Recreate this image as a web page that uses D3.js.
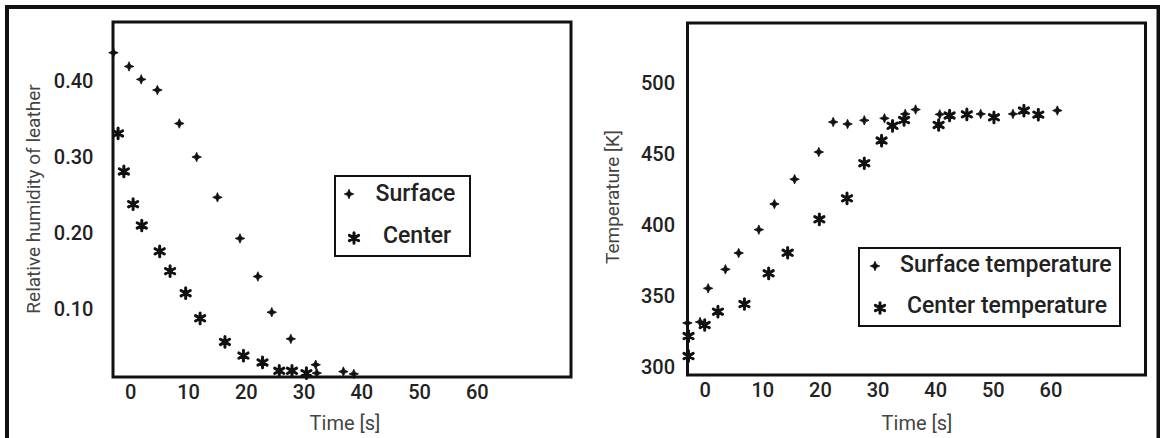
<!DOCTYPE html>
<html>
<head>
<meta charset="utf-8">
<script src="https://cdn.jsdelivr.net/npm/d3@7"></script>
<style>
  html, body { margin: 0; padding: 0; background: #fff; }
  svg { display: block; }
  text { font-family: Roboto, "Liberation Sans", sans-serif; }
</style>
</head>
<body>
<svg id="chart" width="1160" height="438"></svg>
<script>
// ---------- data ----------
// Left panel: relative humidity of leather vs time
const humSurfaceTime = [-2.9, -0.2, 1.9, 4.7, 8.5, 11.5, 15.1, 19.0, 22.1, 24.5, 27.8, 32.1, 32.3, 36.9, 38.7];
const humSurface     = [0.437, 0.419, 0.402, 0.388, 0.344, 0.300, 0.247, 0.193, 0.143, 0.096, 0.061, 0.027, 0.016, 0.018, 0.015];
const humCenterTime  = [-2.1, -1.1, 0.5, 2.0, 5.1, 6.9, 9.6, 12.1, 16.4, 19.6, 22.9, 25.8, 28.0, 30.5];
const humCenter      = [0.331, 0.281, 0.238, 0.210, 0.176, 0.150, 0.121, 0.088, 0.057, 0.039, 0.030, 0.019, 0.019, 0.016];

// Right panel: temperature vs time
const tempSurfaceTime = [-3.0, -0.8, 0.6, 3.6, 5.9, 9.4, 12.1, 15.6, 19.8, 22.3, 24.8, 27.7, 31.2, 34.8, 36.6, 40.8, 47.9, 53.5, 61.2];
const tempSurface     = [330.8, 331.5, 355.3, 368.7, 380.2, 396.7, 414.8, 432.3, 451.5, 472.7, 471.3, 473.9, 475.3, 478.4, 481.5, 478.1, 478.4, 478.4, 480.8];
const tempCenterTime  = [-2.8, -2.8, 0.0, 2.3, 6.9, 11.1, 14.4, 19.9, 24.7, 27.7, 30.7, 32.6, 34.6, 40.6, 42.5, 45.5, 50.2, 55.4, 57.9];
const tempCenter      = [307.5, 321.6, 329.4, 338.8, 344.2, 365.9, 380.4, 404.0, 418.8, 443.6, 459.6, 470.0, 474.1, 470.6, 477.3, 478.1, 476.0, 480.8, 477.9];

// tick labels
const timeTicks = [0, 10, 20, 30, 40, 50, 60];
const humTicks  = [0.10, 0.20, 0.30, 0.40];
const tempTicks = [300, 350, 400, 450, 500];

// texts
const leftYTitle  = "Relative humidity of leather";
const rightYTitle = "Temperature [K]";
const xTitle      = "Time [s]";
const leftLegend  = ["Surface", "Center"];
const rightLegend = ["Surface temperature", "Center temperature"];

// ---------- drawing ----------
const svg = d3.select("#chart");
const INK = "#111";

// outer frame
svg.append("rect")
  .attr("x", 7).attr("y", 7).attr("width", 1151.5).attr("height", 440)
  .attr("fill", "none").attr("stroke", INK).attr("stroke-width", 4);

// four-pointed "+" marker as a custom d3 symbol type
const sparkle = {
  draw(ctx, size) {
    const r = Math.sqrt(size) * 0.75, w = r * 0.3;
    ctx.moveTo(0, -r); ctx.lineTo(w, -w); ctx.lineTo(r, 0); ctx.lineTo(w, w);
    ctx.lineTo(0, r); ctx.lineTo(-w, w); ctx.lineTo(-r, 0); ctx.lineTo(-w, -w); ctx.closePath();
  }
};
const plusSym = d3.symbol().type(sparkle).size(40);
const starSym = d3.symbol().type(d3.symbolAsterisk).size(80);

function drawPlus(g, x, y) {
  g.append("path").attr("d", plusSym()).attr("transform", `translate(${x},${y})`)
    .attr("fill", INK).attr("stroke", INK).attr("stroke-width", 0.8).attr("stroke-linejoin", "round");
}
function drawStar(g, x, y) {
  g.append("path").attr("d", starSym()).attr("transform", `translate(${x},${y})`)
    .attr("fill", "none").attr("stroke", INK).attr("stroke-width", 3).attr("stroke-linecap", "round");
  g.append("circle").attr("cx", x).attr("cy", y).attr("r", 2.8).attr("fill", INK);
}

function panel(cfg) {
  const g = svg.append("g");
  const x = d3.scaleLinear().domain(cfg.xDomain).range([cfg.left, cfg.right]);
  const y = d3.scaleLinear().domain(cfg.yDomain).range([cfg.bottom, cfg.top]);

  // y axis labels
  const ya = g.append("g").attr("transform", `translate(${cfg.left},0)`)
    .call(d3.axisLeft(y).tickValues(cfg.yTicks).tickSize(0).tickPadding(cfg.yPad).tickFormat(cfg.yFmt));
  ya.select(".domain").remove();
  ya.selectAll("text").attr("font-size", 20).attr("font-family", "Roboto, sans-serif")
    .attr("font-weight", 500).attr("fill", "#222");

  // x axis labels
  const xa = g.append("g").attr("transform", `translate(0,${cfg.bottom})`)
    .call(d3.axisBottom(x).tickValues(timeTicks).tickSize(0).tickPadding(8).tickFormat(d3.format("d")));
  xa.select(".domain").remove();
  xa.selectAll("text").attr("font-size", 20).attr("font-family", "Roboto, sans-serif")
    .attr("font-weight", 500).attr("fill", "#222");

  // box
  g.append("rect").attr("x", cfg.left).attr("y", cfg.top)
    .attr("width", cfg.right - cfg.left).attr("height", cfg.bottom - cfg.top)
    .attr("fill", "none").attr("stroke", INK).attr("stroke-width", 3);

  // titles
  g.append("text").attr("transform", `translate(${cfg.yTitleX},${cfg.yTitleY}) rotate(-90)`)
    .attr("text-anchor", "middle").attr("font-size", 19).attr("fill", "#444")
    .text(cfg.yTitle);
  g.append("text").attr("x", cfg.xTitleX).attr("y", 430)
    .attr("text-anchor", "middle").attr("font-size", 20).attr("fill", "#444")
    .text(xTitle);

  // points
  cfg.surfT.forEach((t, i) => drawPlus(g, x(t), y(cfg.surfV[i])));
  cfg.centT.forEach((t, i) => drawStar(g, x(t), y(cfg.centV[i])));

  // legend
  const L = cfg.legend;
  g.append("rect").attr("x", L.x0).attr("y", L.y0).attr("width", L.x1 - L.x0).attr("height", L.y1 - L.y0)
    .attr("fill", "#fff").attr("stroke", INK).attr("stroke-width", 2);
  drawPlus(g, L.m1x, L.m1y);
  drawStar(g, L.m2x, L.m2y);
  g.append("text").attr("x", L.t1x).attr("y", L.t1y).attr("font-size", 23).attr("font-weight", 500)
    .attr("fill", "#222").text(cfg.legendTexts[0]);
  g.append("text").attr("x", L.t2x).attr("y", L.t2y).attr("font-size", 23).attr("font-weight", 500)
    .attr("fill", "#222").text(cfg.legendTexts[1]);
}

panel({
  left: 113, right: 571, top: 22, bottom: 377,
  xDomain: [-2.98, 76.3], yDomain: [0.0109, 0.4774],
  yTicks: humTicks, yFmt: d3.format(".2f"), yPad: 19.5,
  yTitle: leftYTitle, yTitleX: 40, yTitleY: 199, xTitleX: 345,
  surfT: humSurfaceTime, surfV: humSurface, centT: humCenterTime, centV: humCenter,
  legendTexts: leftLegend,
  legend: { x0: 335, y0: 176, x1: 470, y1: 256, m1x: 349, m1y: 194, m2x: 354, m2y: 238,
            t1x: 375.5, t1y: 200.5, t2x: 383, t2y: 243 }
});

panel({
  left: 687.5, right: 1145.5, top: 23, bottom: 375,
  xDomain: [-2.98, 76.5], yDomain: [294.1, 542.6],
  yTicks: tempTicks, yFmt: d3.format("d"), yPad: 12.5,
  yTitle: rightYTitle, yTitleX: 619, yTitleY: 197, xTitleX: 917,
  surfT: tempSurfaceTime, surfV: tempSurface, centT: tempCenterTime, centV: tempCenter,
  legendTexts: rightLegend,
  legend: { x0: 859, y0: 248, x1: 1120, y1: 326, m1x: 875, m1y: 266, m2x: 880, m2y: 308,
            t1x: 900, t1y: 271.5, t2x: 907, t2y: 313 }
});
</script>
</body>
</html>
